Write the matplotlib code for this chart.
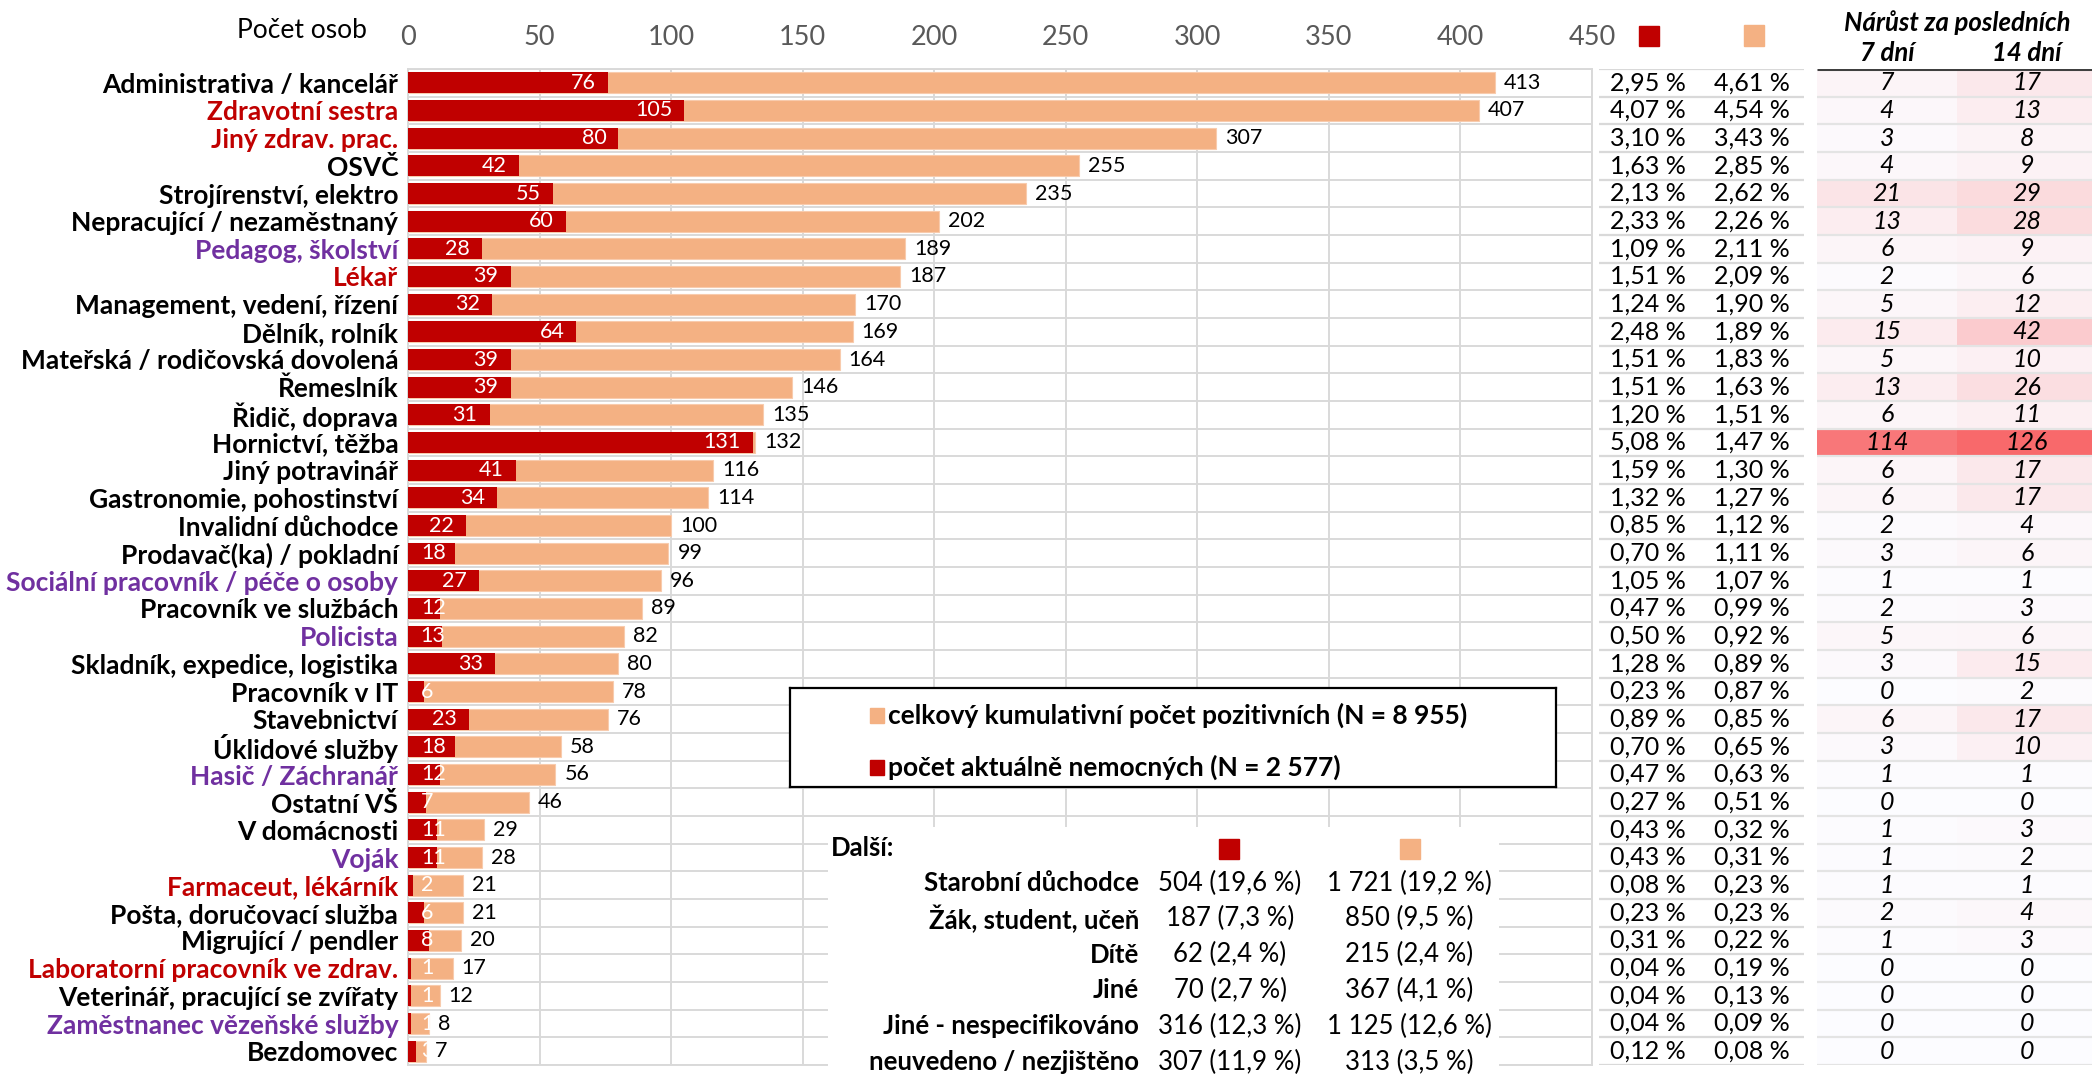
import matplotlib
matplotlib.use("Agg")
import matplotlib.pyplot as plt
import matplotlib.patches as mpatches
from matplotlib.colors import LinearSegmentedColormap, Normalize
import numpy as np

plt.rcParams["font.family"] = ["Lato", "DejaVu Sans"]

# ── Palette ──────────────────────────────────────────────────────────────────
RED = "#C00000"
ORANGE = "#F4B183"
PURPLE = "#7030A0"
GRID = "#D9D9D9"
TICK = "#595959"

# ── Data ─────────────────────────────────────────────────────────────────────
categories = [
    "Administrativa / kancelář", "Zdravotní sestra", "Jiný zdrav. prac.", "OSVČ",
    "Strojírenství, elektro", "Nepracující / nezaměstnaný", "Pedagog, školství",
    "Lékař", "Management, vedení, řízení", "Dělník, rolník",
    "Mateřská / rodičovská dovolená", "Řemeslník", "Řidič, doprava",
    "Hornictví, těžba", "Jiný potravinář", "Gastronomie, pohostinství",
    "Invalidní důchodce", "Prodavač(ka) / pokladní",
    "Sociální pracovník / péče o osoby", "Pracovník ve službách", "Policista",
    "Skladník, expedice, logistika", "Pracovník v IT", "Stavebnictví",
    "Úklidové služby", "Hasič / Záchranář", "Ostatní VŠ", "V domácnosti",
    "Voják", "Farmaceut, lékárník", "Pošta, doručovací služba",
    "Migrující / pendler", "Laboratorní pracovník ve zdrav.",
    "Veterinář, pracující se zvířaty", "Zaměstnanec vězeňské služby", "Bezdomovec",
]
total = [413, 407, 307, 255, 235, 202, 189, 187, 170, 169, 164, 146, 135, 132,
         116, 114, 100, 99, 96, 89, 82, 80, 78, 76, 58, 56, 46, 29, 28, 21, 21,
         20, 17, 12, 8, 7]
current = [76, 105, 80, 42, 55, 60, 28, 39, 32, 64, 39, 39, 31, 131, 41, 34, 22,
           18, 27, 12, 13, 33, 6, 23, 18, 12, 7, 11, 11, 2, 6, 8, 1, 1, 1, 3]
growth_7 = [7, 4, 3, 4, 21, 13, 6, 2, 5, 15, 5, 13, 6, 114, 6, 6, 2, 3, 1, 2, 5,
            3, 0, 6, 3, 1, 0, 1, 1, 1, 2, 1, 0, 0, 0, 0]
growth_14 = [17, 13, 8, 9, 29, 28, 9, 6, 12, 42, 10, 26, 11, 126, 17, 17, 4, 6,
             1, 3, 6, 15, 2, 17, 10, 1, 0, 3, 2, 1, 4, 3, 0, 0, 0, 0]
health_jobs = ["Zdravotní sestra", "Jiný zdrav. prac.", "Lékař",
               "Farmaceut, lékárník", "Laboratorní pracovník ve zdrav."]
service_jobs = ["Pedagog, školství", "Sociální pracovník / péče o osoby",
                "Policista", "Hasič / Záchranář", "Voják",
                "Zaměstnanec vězeňské služby"]
N_TOTAL = 8955
N_CURRENT = 2577

other_labels = ["Starobní důchodce", "Žák, student, učeň", "Dítě", "Jiné",
                "Jiné - nespecifikováno", "neuvedeno / nezjištěno"]
other_current = [504, 187, 62, 70, 316, 307]
other_total = [1721, 850, 215, 367, 1125, 313]

# ── Layout helpers (pixels of the 2092x1075 picture) ─────────────────────────
W, H = 2092, 1075
TOP, BOT = 69, 1065
LEFT, RIGHT = 408, 1592


def fx(x):
    return x / W


def fy(y):
    return 1 - y / H


def thousands(v):
    return f"{v:,}".replace(",", " ")


def pct(v, d=2):
    return f"{v:.{d}f}".replace(".", ",") + " %"


fig = plt.figure(figsize=(W / 100, H / 100), dpi=100)
fig.patch.set_facecolor("white")

n = len(categories)
y = np.arange(n)

# ── Main bar chart ──
ax = fig.add_axes([fx(LEFT), fy(BOT), (RIGHT - LEFT) / W, (BOT - TOP) / H])
ax.barh(y, total, height=0.76, color=ORANGE, edgecolor="#F8CBAD",
        linewidth=0.8, zorder=2)
ax.barh(y, current, height=0.76, color=RED, zorder=3)
ax.set_xlim(0, 450)
ax.set_ylim(n - 0.5, -0.5)
ax.set_xticks(range(0, 451, 50))
ax.xaxis.tick_top()
ax.tick_params(axis="x", length=0, pad=14, labelsize=19.5, labelcolor=TICK)
ax.set_yticks(y)
ax.set_yticklabels(categories, fontweight="bold", fontsize=19)
for lbl, cat in zip(ax.get_yticklabels(), categories):
    if cat in health_jobs:
        lbl.set_color(RED)
    elif cat in service_jobs:
        lbl.set_color(PURPLE)
    else:
        lbl.set_color("black")
ax.tick_params(axis="y", length=0, pad=7)
ax.set_yticks(np.arange(-0.5, n), minor=True)
ax.tick_params(axis="y", which="minor", length=0)
ax.xaxis.grid(True, color=GRID, linewidth=1.4)
ax.yaxis.grid(True, which="minor", color=GRID, linewidth=1.4)
ax.set_axisbelow(True)
for s in ax.spines.values():
    s.set_color(GRID)
    s.set_linewidth(1.4)

for i, (t, c) in enumerate(zip(total, current)):
    ax.text(t + 3.4, i, str(t), ha="left", va="center", fontsize=15.5,
            color="black", zorder=4)
    xr = max(c - 4.6, 4.9 + 4.7 * len(str(c)))
    ax.text(xr, i, str(c), ha="right", va="center", fontsize=15.5,
            color="white", zorder=4)

fig.text(fx(367), fy(31), "Počet osob", ha="right", va="center", fontsize=19)

# ── Percentage columns ──
ax_p = fig.add_axes([fx(1599), fy(BOT), (1804 - 1599) / W, (BOT - TOP) / H])
ax_p.set_xlim(1599, 1804)
ax_p.set_ylim(n - 0.5, -0.5)
ax_p.axis("off")
ax_p.hlines(np.arange(-0.5, n), 1599, 1804, color=GRID, linewidth=1.6)
for i, (t, c) in enumerate(zip(total, current)):
    ax_p.text(1648, i, pct(c / N_CURRENT * 100), ha="center", va="center",
              fontsize=18)
    ax_p.text(1752, i, pct(t / N_TOTAL * 100), ha="center", va="center",
              fontsize=18)

fig.add_artist(mpatches.Rectangle((fx(1639), fy(46)), 20 / W, 20 / H,
                                  transform=fig.transFigure, color=RED))
fig.add_artist(mpatches.Rectangle((fx(1744), fy(46)), 20 / W, 21 / H,
                                  transform=fig.transFigure, color=ORANGE))

# ── Growth table (heat-coloured) ──
cmap = LinearSegmentedColormap.from_list("narust", ["#FCFCFF", "#F8696B"])
norm = Normalize(0, max(max(growth_7), max(growth_14)))
ax_g = fig.add_axes([fx(1817), fy(BOT), (W - 1817) / W, (BOT - TOP) / H])
ax_g.set_xlim(1817, W)
ax_g.set_ylim(n - 0.5, -0.5)
ax_g.axis("off")
ax_g.barh(y, 140, left=1817, height=1.0, color=cmap(norm(growth_7)))
ax_g.barh(y, W - 1957, left=1957, height=1.0, color=cmap(norm(growth_14)))
ax_g.hlines(np.arange(0.5, n), 1817, W, color="#E4E4E4", linewidth=1.6)
ax_g.hlines(-0.5, 1817, W, color="#404040", linewidth=2.2)
for i, (a, b) in enumerate(zip(growth_7, growth_14)):
    ax_g.text(1887, i, str(a), ha="center", va="center", fontsize=18,
              style="italic")
    ax_g.text(2027, i, str(b), ha="center", va="center", fontsize=18,
              style="italic")

fig.text(fx(1957), fy(23), "Nárůst za posledních", ha="center", va="center",
         fontsize=18.5, fontweight="bold", style="italic")
fig.text(fx(1887), fy(53), "7 dní", ha="center", va="center",
         fontsize=18.5, fontweight="bold", style="italic")
fig.text(fx(2027), fy(53), "14 dní", ha="center", va="center",
         fontsize=18.5, fontweight="bold", style="italic")

# ── Legend box ──
ax_l = fig.add_axes([fx(790), fy(787), (1556 - 790) / W, (787 - 688) / H])
ax_l.set_zorder(5)
ax_l.set_xlim(790, 1556)
ax_l.set_ylim(787, 688)
ax_l.set_xticks([])
ax_l.set_yticks([])
ax_l.set_facecolor("white")
for s in ax_l.spines.values():
    s.set_color("black")
    s.set_linewidth(1.6)
ax_l.add_patch(mpatches.Rectangle((870, 708), 14, 15, color=ORANGE))
ax_l.text(888, 715, f"celkový kumulativní počet pozitivních (N = {thousands(N_TOTAL)})",
          ha="left", va="center", fontsize=19, fontweight="bold")
ax_l.add_patch(mpatches.Rectangle((870, 760), 14, 15, color=RED))
ax_l.text(888, 767, f"počet aktuálně nemocných (N = {thousands(N_CURRENT)})",
          ha="left", va="center", fontsize=19, fontweight="bold")

# ── "Další" table ──
ax_d = fig.add_axes([fx(828), 0, (1499 - 828) / W, (H - 827) / H])
ax_d.set_zorder(5)
ax_d.set_xlim(828, 1499)
ax_d.set_ylim(H, 827)
ax_d.set_xticks([])
ax_d.set_yticks([])
ax_d.set_facecolor("white")
for s in ax_d.spines.values():
    s.set_visible(False)
ax_d.text(831, 848, "Další:", ha="left", va="center", fontsize=18.5,
          fontweight="bold")
ax_d.add_patch(mpatches.Rectangle((1219, 839), 20, 20, color=RED))
ax_d.add_patch(mpatches.Rectangle((1400, 839), 20, 20, color=ORANGE))
row_y = 883
for lab, c, t in zip(other_labels, other_current, other_total):
    ax_d.text(1139, row_y, lab, ha="right", va="center", fontsize=18.5,
              fontweight="bold")
    ax_d.text(1230, row_y, f"{thousands(c)} ({pct(c / N_CURRENT * 100, 1)})",
              ha="center", va="center", fontsize=18.5)
    ax_d.text(1409, row_y, f"{thousands(t)} ({pct(t / N_TOTAL * 100, 1)})",
              ha="center", va="center", fontsize=18.5)
    row_y += 35.8

fig.savefig("out.png", dpi=100, facecolor="white")
